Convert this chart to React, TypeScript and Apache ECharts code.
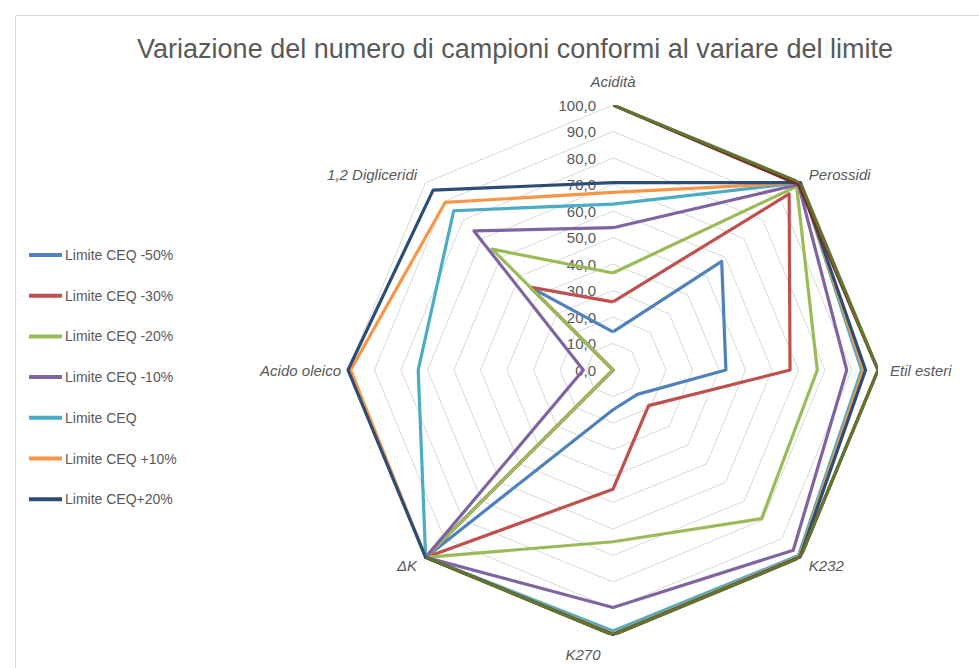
import React, { useEffect, useRef } from "react";
import * as echarts from "echarts";

// Indicators in clockwise order starting from the top
const indicators = ["Acidità", "Perossidi", "Etil esteri", "K232", "K270", "ΔK", "Acido oleico", "1,2 Digliceridi"];

const legendNames = [
  "Limite CEQ -50%",
  "Limite CEQ -30%",
  "Limite CEQ -20%",
  "Limite CEQ -10%",
  "Limite CEQ",
  "Limite CEQ +10%",
  "Limite CEQ+20%",
];
const hiddenNames = ["Limite CEQ+30%", "Limite CEQ+50%"];

// values in clockwise indicator order
const limiteMinus50 = [14.4, 58, 42.6, 13, 15, 100, 0, 44.2];
const limiteMinus30 = [25.7, 94, 66.8, 19, 45, 100, 0, 44.2];
const limiteMinus20 = [36.6, 98, 77.1, 79.3, 64.8, 100, 0, 64.5];
const limiteMinus10 = [53.7, 99, 88.2, 96.2, 89.6, 100, 11.2, 74.2];
const limiteCEQ = [62.6, 100, 93.8, 99, 98.5, 100, 73.5, 85];
const limitePlus10 = [67, 100, 94.5, 99.5, 99.5, 100, 99, 89.5];
const limitePlus20 = [70.7, 100, 95.3, 99.8, 99.8, 100, 100, 96];
// series not listed in the legend (missing values on two axes)
const limitePlus30 = [100, 99, 100, 100, 100, 100, null, null];
const limitePlus50 = [100, 100, 100, 100, 100, 100, null, null];

const completeSeries = [limiteMinus50, limiteMinus30, limiteMinus20, limiteMinus10, limiteCEQ, limitePlus10, limitePlus20];
const partialSeries = [limitePlus30, limitePlus50];

const colors = ["#4F81BD", "#C0504D", "#9BBB59", "#8064A2", "#4BACC6", "#F79646", "#2C4D75"];
const hiddenColors = ["#772C2A", "#5F7530"];

const FONT = "'Liberation Sans', Arial, sans-serif";
const CX = 613;
const CY = 370;
const R = 265;

// radar lays indicators out counter-clockwise; convert clockwise order
const radarOrder = [0, 7, 6, 5, 4, 3, 2, 1];

// small per-label nudges to mimic the original label placement
const namePadding: Record<string, number[]> = {
  "Acidità": [0, 0, 4, 0],
  "K270": [0, 60, 0, 0],
  "Acido oleico": [0, -5, 0, 0],
};

export default function App() {
  const ref = useRef<HTMLDivElement>(null);
  useEffect(() => {
    if (!ref.current) return;
    const chart = echarts.init(ref.current, null, { renderer: "svg" });
    const option: any = {
      animation: false,
      backgroundColor: "#ffffff",
      textStyle: { fontFamily: FONT },
      title: {
        text: "Variazione del numero di campioni conformi al variare del limite",
        left: 510,
        top: 30,
        textAlign: "center",
        textStyle: { fontSize: 27, fontWeight: "normal", color: "#595959", fontFamily: FONT },
      },
      graphic: [
        {
          type: "rect",
          shape: { x: 15.5, y: 15.5, width: 1000, height: 700 },
          style: { fill: "none", stroke: "#D9D9D9", lineWidth: 1 },
          silent: true,
          z: -1,
        },
      ],
      legend: {
        data: legendNames,
        orient: "vertical",
        left: 24,
        top: 243,
        itemWidth: 33,
        itemHeight: 4,
        itemGap: 26.7,
        icon: "rect",
        textStyle: { fontSize: 14, color: "#595959", fontFamily: FONT, padding: [0, 0, 0, -2] },
      },
      radar: {
        center: [CX, CY],
        radius: R,
        startAngle: 90,
        shape: "polygon",
        splitNumber: 10,
        nameGap: 12,
        indicator: radarOrder.map((k, i) => {
          const name = indicators[k];
          const ind: any = { name, min: 0, max: 100 };
          if (namePadding[name]) ind.nameTextStyle = { padding: namePadding[name] };
          if (i === 0) {
            ind.axisLabel = {
              show: true,
              fontSize: 15,
              margin: 17,
              color: "#595959",
              fontFamily: FONT,
              formatter: (v: number) => v.toFixed(1).replace(".", ","),
            };
          }
          return ind;
        }),
        axisName: { color: "#595959", fontStyle: "italic", fontSize: 15, fontFamily: FONT },
        splitLine: { lineStyle: { color: "#D9D9D9", width: 1 } },
        splitArea: { show: false },
        axisLine: { show: false },
        axisTick: { show: false },
        axisLabel: { show: false },
      },
      polar: { center: [CX, CY], radius: R },
      angleAxis: {
        type: "category",
        data: indicators,
        startAngle: 90,
        clockwise: true,
        boundaryGap: false,
        show: false,
      },
      radiusAxis: { min: 0, max: 100, show: false },
      series: [
        ...completeSeries.map((vals, i) => ({
          type: "radar",
          name: legendNames[i],
          symbol: "none",
          z: 2 + i,
          lineStyle: { color: colors[i], width: 3.2 },
          itemStyle: { color: colors[i] },
          data: [{ name: legendNames[i], value: radarOrder.map((k) => vals[k]) }],
        })),
        ...partialSeries.map((vals, i) => ({
          type: "line",
          name: hiddenNames[i],
          coordinateSystem: "polar",
          symbol: "none",
          connectNulls: false,
          z: 10 + i,
          lineStyle: { color: hiddenColors[i], width: 3.2 },
          itemStyle: { color: hiddenColors[i] },
          data: vals,
        })),
      ],
    };
    chart.setOption(option);
    return () => chart.dispose();
  }, []);
  return (
    <div
      ref={ref}
      style={{ position: "fixed", left: 0, top: 0, width: 979, height: 668, background: "#fff" }}
    />
  );
}
